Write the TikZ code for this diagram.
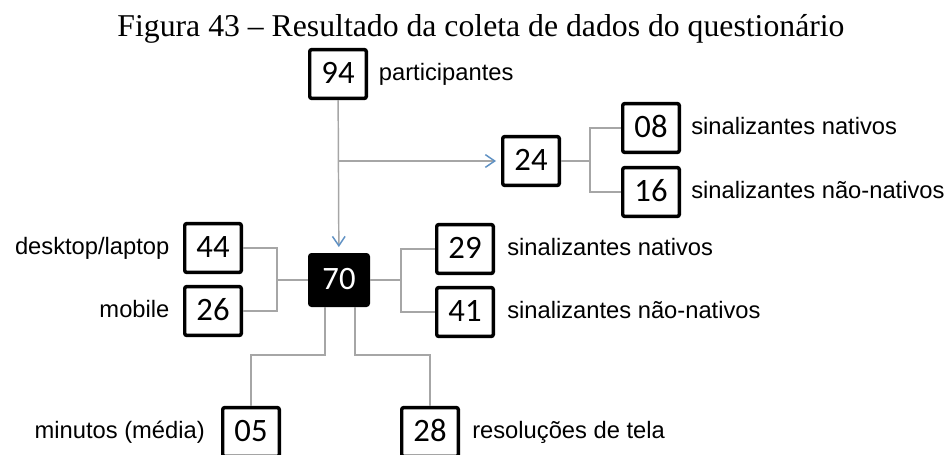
\documentclass[tikz,border=0pt]{standalone}
\usepackage{fontspec}
\setmainfont{Liberation Sans}
\newfontfamily\titlefont{Liberation Serif}
\newfontfamily\numfont{Carlito}
\usetikzlibrary{positioning,arrows.meta}
\definecolor{linegray}{RGB}{166,166,166}
\definecolor{arrowblue}{RGB}{95,145,195}

\begin{document}
\begin{tikzpicture}[x=0.75pt, y=-0.75pt,
  box/.style={rectangle, draw=black, line width=2.6pt, rounded corners=1.5pt, minimum width=42.4pt, minimum height=36.6pt, inner sep=0pt, text height=15.5pt, text depth=2pt, font=\numfont\fontsize{24.5}{28}\selectfont},
  mainbox/.style={box, fill=black, text=white, minimum width=43.9pt, minimum height=37.9pt},
  lbl/.style={inner sep=0pt, text height=12.8pt, text depth=3.7pt, font=\fontsize{17.8}{21}\selectfont},
  link/.style={draw=linegray, line width=1.1pt},
  flow/.style={link, -{Straight Barb[length=7pt, width=9.5pt, line width=1.1pt, color=arrowblue]}}]

\useasboundingbox (0,0) rectangle (952,454);

\node[anchor=base, font=\titlefont\fontsize{23.8}{28}\selectfont] (title) at (481,36) {Figura 43 – Resultado da coleta de dados do questionário};

\draw

(338, 74) node[box](n94){94}
(531, 161) node[box](n24){24}
(651, 128) node[box](n08){08}
(651, 192) node[box](n16){16}
(339, 280) node[mainbox](n70){70}
(213, 248) node[box](n44){44}
(213, 311) node[box](n26){26}
(465, 249) node[box](n29){29}
(465, 312) node[box](n41){41}
(251, 432) node[box](n05){05}
(430, 432) node[box](n28){28};

\node[lbl, right=8pt of n94] (lpart) {participantes};
\node[lbl, right=7.5pt of n08] (l08) {sinalizantes nativos};
\node[lbl, right=7.5pt of n16] (l16) {sinalizantes não-nativos};
\node[lbl, right=9pt of n29] (l29) {sinalizantes nativos};
\node[lbl, right=9pt of n41] (l41) {sinalizantes não-nativos};
\node[lbl, left=10pt of n44] (l44) {desktop/laptop};
\node[lbl, left=10pt of n26] (l26) {mobile};
\node[lbl, left=12pt of n05] (l05) {minutos (média)};
\node[lbl, right=9pt of n28] (l28) {resoluções de tela};

\coordinate (j24) at (590, 161);
\coordinate (jleft) at (277, 280);
\coordinate (jright) at (401, 280);
\coordinate (jdl) at (325, 355);
\coordinate (jdr) at (355, 355);

\draw[flow, shorten >=4.5pt] (n94) -- (n70);
\draw[flow, shorten >=3.75pt] (n94 |- n24) -- (n24);
\draw[link] (n24) -- (j24) (n08.west) -| (j24) |- (n16.west);
\draw[link] (n70) -- (jleft) (n44.east) -| (jleft) |- (n26.east);
\draw[link] (n70) -- (jright) (n29.west) -| (jright) |- (n41.west);
\draw[link] (n70.south -| jdl) -- (jdl) -| (n05.north);
\draw[link] (n70.south -| jdr) -- (jdr) -| (n28.north);

\end{tikzpicture}
\end{document}
